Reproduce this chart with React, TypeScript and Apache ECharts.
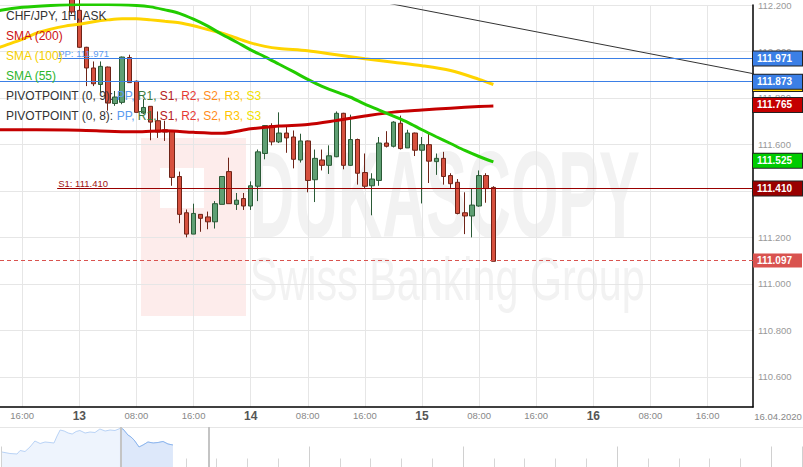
import React, { useEffect, useRef } from 'react';
import * as echarts from 'echarts';

const FONT = '"Liberation Sans", Arial, Helvetica, sans-serif';

// hours since 2020-04-13 00:00 (1H candles, CHF/JPY ask)
const hours = [-1, 0, 1, 2, 3, 4, 5, 6, 7, 8, 9, 10, 11, 12, 13, 14, 15, 16, 17, 18, 19, 20, 21, 22, 23, 24, 25, 26, 27, 28, 29, 30, 31, 32, 33, 34, 35, 36, 37, 38, 39, 40, 41, 42, 43, 44, 45, 46, 47, 48, 49, 50, 51, 52, 53, 54, 55, 56, 57, 58];
const opens = [112.25, 112.177, 112.018, 111.929, 111.858, 111.933, 111.776, 111.781, 111.974, 111.872, 111.735, 111.764, 111.702, 111.663, 111.66, 111.462, 111.306, 111.214, 111.299, 111.288, 111.267, 111.342, 111.483, 111.342, 111.367, 111.335, 111.42, 111.561, 111.681, 111.611, 111.649, 111.632, 111.533, 111.615, 111.448, 111.533, 111.51, 111.547, 111.734, 111.51, 111.621, 111.479, 111.422, 111.445, 111.606, 111.592, 111.691, 111.585, 111.649, 111.575, 111.599, 111.526, 111.54, 111.466, 111.437, 111.306, 111.292, 111.335, 111.466, 111.415];
const closes = [112.17, 112.018, 111.929, 111.861, 111.936, 111.778, 111.804, 111.976, 111.866, 111.738, 111.759, 111.696, 111.653, 111.653, 111.458, 111.299, 111.214, 111.303, 111.282, 111.267, 111.345, 111.462, 111.345, 111.36, 111.335, 111.422, 111.568, 111.681, 111.611, 111.649, 111.628, 111.536, 111.615, 111.445, 111.54, 111.51, 111.551, 111.734, 111.51, 111.621, 111.476, 111.42, 111.451, 111.606, 111.592, 111.696, 111.582, 111.649, 111.575, 111.599, 111.528, 111.54, 111.462, 111.431, 111.303, 111.292, 111.339, 111.466, 111.41, 111.097];
const lows = [112.16, 112.016, 111.851, 111.851, 111.823, 111.745, 111.766, 111.773, 111.866, 111.738, 111.731, 111.618, 111.628, 111.615, 111.422, 111.261, 111.2, 111.214, 111.224, 111.235, 111.238, 111.342, 111.345, 111.318, 111.318, 111.318, 111.356, 111.536, 111.596, 111.606, 111.564, 111.497, 111.522, 111.394, 111.352, 111.488, 111.473, 111.545, 111.493, 111.508, 111.427, 111.408, 111.295, 111.422, 111.587, 111.587, 111.578, 111.585, 111.55, 111.346, 111.434, 111.469, 111.427, 111.413, 111.299, 111.214, 111.2, 111.332, 111.349, 111.097];
const highs = [112.27, 112.23, 112.02, 111.957, 111.957, 111.935, 111.83, 111.978, 111.986, 111.875, 111.795, 111.764, 111.742, 111.702, 111.662, 111.483, 111.32, 111.345, 111.299, 111.311, 111.356, 111.464, 111.543, 111.391, 111.391, 111.441, 111.578, 111.683, 111.691, 111.738, 111.675, 111.66, 111.646, 111.617, 111.578, 111.578, 111.596, 111.742, 111.736, 111.728, 111.625, 111.561, 111.476, 111.632, 111.657, 111.7, 111.724, 111.663, 111.651, 111.632, 111.653, 111.561, 111.568, 111.476, 111.451, 111.394, 111.41, 111.488, 111.476, 111.42];

const sma200Hours = [-12, -6, 0, 4, 8, 12, 16, 20, 24, 28, 32, 36, 40, 44, 48, 52, 56, 58];
const sma200Values = [111.663, 111.663, 111.661, 111.657, 111.654, 111.659, 111.652, 111.648, 111.667, 111.679, 111.686, 111.703, 111.722, 111.739, 111.748, 111.756, 111.763, 111.765];

const sma100Hours = [-12, -11, -8, -6, -4, -2, 0, 2, 4, 6, 8, 10, 12, 14, 16, 18, 20, 22, 24, 26, 28, 32, 36, 40, 44, 48, 52, 56, 58];
const sma100Values = [112.007, 112.02, 112.052, 112.079, 112.096, 112.109, 112.117, 112.128, 112.136, 112.141, 112.141, 112.136, 112.13, 112.124, 112.111, 112.094, 112.079, 112.058, 112.037, 112.022, 112.013, 112.003, 111.986, 111.969, 111.954, 111.939, 111.918, 111.88, 111.858];

const sma55Hours = [-12, -11, -8, -4, 0, 4, 8, 10, 12, 14, 16, 18, 20, 22, 24, 26, 28, 30, 32, 34, 36, 38, 40, 42, 44, 46, 48, 50, 52, 54, 56, 58];
const sma55Values = [112.168, 112.177, 112.19, 112.198, 112.202, 112.202, 112.198, 112.192, 112.179, 112.164, 112.139, 112.109, 112.073, 112.041, 112.007, 111.977, 111.945, 111.913, 111.88, 111.85, 111.826, 111.803, 111.773, 111.748, 111.722, 111.695, 111.663, 111.633, 111.604, 111.574, 111.548, 111.525];

const pivotStartHour = -3.1;
const pivotPP = 111.971;
const pivotS1 = 111.41;
const pivot2PP = 111.873;

const trendHours = [40, 96];
const trendValues = [112.227, 111.895];

const xTickHours = [-8, 0, 8, 16, 24, 32, 40, 48, 56, 64, 72, 80, 88];
const xTickLabels = ['16:00', '13', '08:00', '16:00', '14', '08:00', '16:00', '15', '08:00', '16:00', '16', '08:00', '16:00'];
const yTickValues = [110.6, 110.8, 111.0, 111.2, 111.4, 111.6, 111.8, 112.0, 112.2];

// navigator overview (x in tick units, y in relative height)
const navX = [0.03, 0.29, 0.52, 0.62, 0.78, 0.94, 1.1, 1.27, 1.43, 1.59, 1.72, 1.82, 1.92, 2.05, 2.18, 2.31, 2.44, 2.56, 2.73, 2.89, 3.05, 3.21, 3.38, 3.54, 3.7, 3.86, 3.96, 4.12, 4.22, 4.32, 4.48, 4.61, 4.77, 4.94, 5.1, 5.26, 5.42, 5.58];
const navY = [15, 13.5, 13, 16.5, 15.5, 20, 26, 23.5, 25, 24.5, 24, 31, 37, 36, 34, 33, 35.5, 36.5, 34, 35, 34.5, 38, 36, 37, 36.5, 38.5, 38, 32, 30, 27, 20, 22, 25, 24, 24.5, 25.5, 23, 22];
const navWindow = [3.886, 6.73];

const X_MIN = -11.11;
const X_MAX = 94.37;

const box = (bg: string, border: string | null = '#222') => ({
  show: true,
  position: 'end',
  distance: 0,
  formatter: '{b}',
  color: '#fff',
  fontFamily: FONT,
  fontSize: 10,
  fontWeight: 'bold',
  backgroundColor: bg,
  borderColor: border || bg,
  borderWidth: border ? 1 : 0,
  padding: [1, 4, 1, 4],
  width: 41,
  lineHeight: 12,
});

const valueLine = (v: number, bg: string, lineStyle: any, border: string | null = '#222') => ({
  yAxis: v,
  name: v.toFixed(3),
  lineStyle,
  label: box(bg, border),
});

const HIDDEN = { color: 'rgba(0,0,0,0)' };

export default function App() {
  const ref = useRef<HTMLDivElement>(null);
  useEffect(() => {
    const chart = echarts.init(ref.current!, null, { renderer: 'svg' });
    const candleData = hours.map((h, i) => [h, opens[i], closes[i], lows[i], highs[i]]);
    const last = closes[closes.length - 1];
    const navSplit = navX.findIndex((x) => x >= navWindow[0] - 0.05);

    const option: any = {
      animation: false,
      backgroundColor: '#fff',
      grid: [
        { left: 0, top: 0, right: 50, height: 407 },
        { left: 1, right: 1, top: 427, height: 40 },
      ],
      xAxis: [
        {
          type: 'value',
          gridIndex: 0,
          position: 'bottom',
          min: X_MIN,
          max: X_MAX,
          axisLine: { show: true, onZero: false, lineStyle: { color: '#000', width: 1.5 } },
          axisTick: { show: false, customValues: xTickHours },
          axisLabel: {
            customValues: xTickHours,
            margin: 3,
            formatter: (v: number) => {
              const i = xTickHours.findIndex((h) => Math.abs(h - v) < 1e-6);
              if (i < 0) return '';
              const t = xTickLabels[i];
              return t.indexOf(':') >= 0 ? `{t|${t}}` : `{d|${t}}`;
            },
            rich: {
              t: { fontSize: 9.5, color: '#888', fontFamily: FONT },
              d: { fontSize: 12, fontWeight: 'bold', color: '#555', fontFamily: FONT },
            },
          },
          splitLine: { show: true, lineStyle: { color: '#e6e6e6', width: 1 } },
        },
        {
          type: 'value',
          gridIndex: 1,
          position: 'bottom',
          min: 0,
          max: 26,
          interval: 1,
          axisLine: { show: false, onZero: false },
          axisLabel: { show: false },
          axisTick: { show: true, inside: true, length: 8.5, lineStyle: { color: '#d6d6d6', width: 1 } },
          splitLine: { show: false },
        },
        {
          type: 'value',
          gridIndex: 1,
          position: 'bottom',
          min: 0,
          max: 26,
          interval: 5,
          axisLine: { show: false, onZero: false },
          axisLabel: { show: false },
          axisTick: { show: true, inside: true, length: 20.5, lineStyle: { color: '#d0d0d0', width: 1 } },
          splitLine: { show: false },
        },
      ],
      yAxis: [
        {
          type: 'value',
          gridIndex: 0,
          position: 'right',
          min: 110.47,
          max: 112.2,
          axisLine: { show: true, onZero: false, lineStyle: { color: '#000', width: 1.5 } },
          axisTick: { show: false, customValues: yTickValues },
          axisLabel: {
            customValues: yTickValues,
            margin: 5,
            color: '#999',
            fontSize: 9.5,
            fontFamily: FONT,
            formatter: (v: number) => v.toFixed(3),
          },
          splitLine: { show: true, lineStyle: { color: '#e6e6e6', width: 1 } },
        },
        {
          type: 'value',
          gridIndex: 1,
          min: 0,
          max: 40,
          show: false,
        },
      ],
      graphic: [
        // watermark
        { type: 'rect', z: -10, shape: { x: 141, y: 138, width: 105, height: 178 }, style: { fill: '#fdeceb' } },
        { type: 'rect', z: -9, shape: { x: 160, y: 168, width: 44, height: 40 }, style: { fill: '#ffffff' } },
        {
          type: 'text', z: -10, x: 250, y: 195, scaleX: 0.5,
          style: { text: 'DUKASCOPY', font: `bold 122px ${FONT}`, fill: '#f2f2f2', verticalAlign: 'middle' },
        },
        {
          type: 'text', z: -10, x: 250, y: 278, scaleX: 0.666,
          style: { text: 'Swiss Banking Group', font: `62px ${FONT}`, fill: '#f2f2f2', verticalAlign: 'middle' },
        },
        // legend
        { type: 'text', z: 100, x: 6, y: 15.7, style: { text: 'CHF/JPY, 1H, ASK', font: `12px ${FONT}`, fill: '#333', verticalAlign: 'middle' } },
        { type: 'text', z: 100, x: 6, y: 35.7, style: { text: 'SMA (200)', font: `12px ${FONT}`, fill: '#cc1111', verticalAlign: 'middle' } },
        { type: 'text', z: 100, x: 6, y: 55.7, style: { text: 'SMA (100)', font: `12px ${FONT}`, fill: '#f5cf00', verticalAlign: 'middle' } },
        { type: 'text', z: 100, x: 6, y: 75.7, style: { text: 'SMA (55)', font: `12px ${FONT}`, fill: '#2db52d', verticalAlign: 'middle' } },
        ...[9, 8].map((n, k) => ({
          type: 'text', z: 100, x: 6, y: 95.7 + k * 20,
          style: {
            text: `PIVOTPOINT (0, ${n}): {pp|PP,} {r1|R1,} {s1|S1,} {r2|R2,} {s2|S2,} {r3|R3,} {s3|S3}`,
            font: `12px ${FONT}`,
            fill: '#333',
            verticalAlign: 'middle',
            rich: {
              pp: { fill: '#5b9bf0', font: `12px ${FONT}` },
              r1: { fill: '#3d7a3d', font: `12px ${FONT}` },
              s1: { fill: '#b52020', font: `12px ${FONT}` },
              r2: { fill: '#e53935', font: `12px ${FONT}` },
              s2: { fill: '#ff8c1a', font: `12px ${FONT}` },
              r3: { fill: '#ffc400', font: `12px ${FONT}` },
              s3: { fill: '#f0e000', font: `12px ${FONT}` },
            },
          },
        })),
        // date at axis corner
        { type: 'text', z: 100, x: 778, y: 416, style: { text: '16.04.2020', font: `9.5px ${FONT}`, fill: '#888', align: 'center', verticalAlign: 'middle' } },
        // navigator top border
        { type: 'line', z: 1, shape: { x1: 0, y1: 427.5, x2: 803, y2: 427.5 }, style: { stroke: '#e6e6e6', lineWidth: 1 } },
      ],
      series: [
        {
          type: 'line',
          xAxisIndex: 0,
          yAxisIndex: 0,
          data: trendHours.map((h, i) => [h, trendValues[i]]),
          showSymbol: false,
          symbol: 'none',
          lineStyle: { color: '#333', width: 1 },
          z: 2,
        },
        {
          type: 'candlestick',
          xAxisIndex: 0,
          yAxisIndex: 0,
          data: candleData,
          barWidth: 5,
          itemStyle: {
            color: '#5f9f73',
            color0: '#d6503e',
            borderColor: '#2a5a36',
            borderColor0: '#6e2317',
            borderWidth: 1,
          },
          z: 3,
        },
        {
          type: 'line',
          xAxisIndex: 0,
          yAxisIndex: 0,
          data: sma200Hours.map((h, i) => [h, sma200Values[i]]),
          smooth: 0.3,
          showSymbol: false,
          symbol: 'none',
          lineStyle: { color: '#c40000', width: 3 },
          z: 4,
          markLine: {
            silent: true, symbol: 'none',
            data: [valueLine(sma200Values[sma200Values.length - 1], '#c40000', HIDDEN)],
          },
        },
        {
          type: 'line',
          xAxisIndex: 0,
          yAxisIndex: 0,
          data: sma100Hours.map((h, i) => [h, sma100Values[i]]),
          smooth: 0.3,
          showSymbol: false,
          symbol: 'none',
          lineStyle: { color: '#ffd400', width: 3 },
          z: 4,
          markLine: {
            silent: true, symbol: 'none',
            data: [valueLine(sma100Values[sma100Values.length - 1], '#ffd400', HIDDEN)],
          },
        },
        {
          type: 'line',
          xAxisIndex: 0,
          yAxisIndex: 0,
          data: sma55Hours.map((h, i) => [h, sma55Values[i]]),
          smooth: 0.3,
          showSymbol: false,
          symbol: 'none',
          lineStyle: { color: '#22cc00', width: 3 },
          z: 4,
          markLine: {
            silent: true, symbol: 'none',
            data: [valueLine(sma55Values[sma55Values.length - 1], '#00cc00', HIDDEN)],
          },
        },
        {
          type: 'line',
          xAxisIndex: 0,
          yAxisIndex: 0,
          data: [],
          z: 5,
          markLine: {
            silent: true,
            symbol: 'none',
            data: [
              [
                {
                  coord: [pivotStartHour, pivotPP],
                  lineStyle: { color: '#3b7fe6', width: 1, type: 'solid' },
                  label: {
                    show: true, position: 'insideStartTop', distance: [1, 0],
                    formatter: 'PP: ' + pivotPP.toFixed(3),
                    color: '#5b9bf0', fontSize: 9.5, fontFamily: FONT,
                  },
                },
                { coord: [X_MAX, pivotPP] },
              ],
              [
                {
                  coord: [pivotStartHour, pivotS1],
                  lineStyle: { color: '#990000', width: 1, type: 'solid' },
                  label: {
                    show: true, position: 'insideStartTop', distance: [1, 0],
                    formatter: 'S1: ' + pivotS1.toFixed(3),
                    color: '#a01010', fontSize: 9.5, fontFamily: FONT,
                  },
                },
                { coord: [X_MAX, pivotS1] },
              ],
              valueLine(pivotPP, '#3b7fe6', HIDDEN),
              valueLine(pivotS1, '#990000', HIDDEN),
              valueLine(pivot2PP, '#3b7fe6', { color: '#3b7fe6', width: 1, type: 'solid' }),
              valueLine(last, '#d9534f', { color: '#d9534f', width: 1, type: [4, 3] }, null),
            ],
          },
        },
        // navigator
        {
          type: 'line',
          xAxisIndex: 1,
          yAxisIndex: 1,
          data: navX.map((x, i) => [x, navY[i]]),
          showSymbol: false,
          symbol: 'none',
          lineStyle: { color: '#b9d3f6', width: 1 },
          areaStyle: { color: '#eef4fd', opacity: 1 },
          z: 2,
          markLine: {
            silent: true, symbol: 'none',
            lineStyle: { color: '#c4c4c4', width: 2, type: 'solid' },
            label: { show: false },
            data: [{ xAxis: navWindow[0] }, { xAxis: navWindow[1] }],
          },
        },
        {
          type: 'line',
          xAxisIndex: 1,
          yAxisIndex: 1,
          data: navX.slice(navSplit).map((x, i) => [x, navY[navSplit + i]]),
          showSymbol: false,
          symbol: 'none',
          lineStyle: { color: '#8db6ee', width: 1 },
          areaStyle: { color: '#dde8fa', opacity: 1 },
          z: 3,
        },
      ],
    };
    chart.setOption(option);
    return () => chart.dispose();
  }, []);
  return <div ref={ref} style={{ position: 'absolute', left: 0, top: 0, width: 803, height: 467 }} />;
}
